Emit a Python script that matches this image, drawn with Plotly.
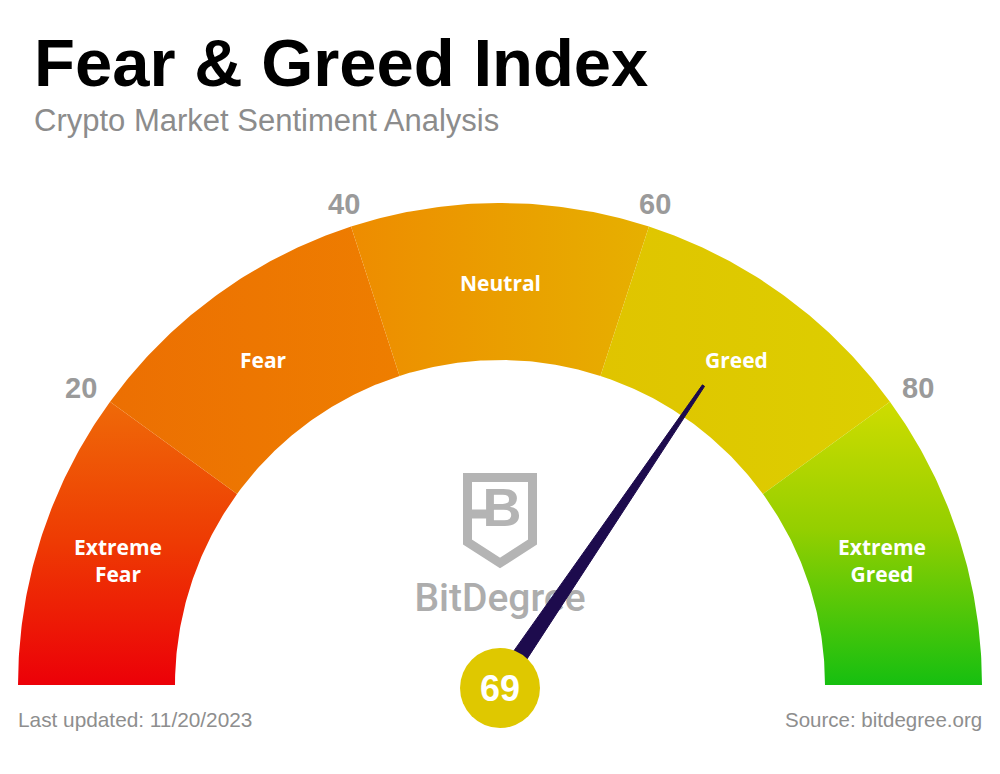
import numpy as np
import plotly.graph_objects as go

# ---------------- data ----------------
zone_names = ["Extreme<br>Fear", "Fear", "Neutral", "Greed", "Extreme<br>Greed"]
zone_bounds = [0, 20, 40, 60, 80, 100]
tick_values = [20, 40, 60, 80]
tick_labels = ["20", "40", "60", "80"]
index_value = 69
title_text = "Fear & Greed Index"
subtitle_text = "Crypto Market Sentiment Analysis"
updated_text = "Last updated: 11/20/2023"
source_text = "Source: bitdegree.org"
brand_text = "BitDegree"

# ---------------- styling / geometry ----------------
W, H = 1000, 774
CX, CY = 500, 685
R_OUT, R_IN = 482, 325
R_LABEL, R_TICK = 402, 506
tick_xshift = [-10, 0, -1, 9]
NEEDLE_LEN, NEEDLE_HALF, NEEDLE_TIP_HALF = 362, 8.5, 1.3
zone_grad = [
    dict(type="vertical", colorscale=[[0, "#ec0008"], [0.5, "#ee3a03"], [1, "#ef6a08"]]),
    dict(type="horizontal", colorscale=[[0, "#ec6f02"], [1, "#ee7e00"]]),
    dict(type="horizontal", colorscale=[[0, "#ee8c00"], [1, "#e6b000"]]),
    dict(type="horizontal", colorscale=[[0, "#e0c400"], [1, "#dccf00"]]),
    dict(type="vertical", colorscale=[[0, "#16bf10"], [0.55, "#94cf00"], [1, "#cfdc00"]]),
]
LOGO_GRAY = "#b4b4b4"


def ang(v):
    return np.radians(180.0 - 180.0 * v / 100.0)


def pt(v, r):
    a = ang(v)
    return CX + r * np.cos(a), CY - r * np.sin(a)


fig = go.Figure()

# gauge zones
for i, name in enumerate(zone_names):
    v0, v1 = zone_bounds[i], zone_bounds[i + 1]
    vs = np.linspace(v0, v1, 80)
    ox, oy = pt(vs, R_OUT)
    ix, iy = pt(vs[::-1], R_IN)
    xs = np.concatenate([ox, ix, ox[:1]])
    ys = np.concatenate([oy, iy, oy[:1]])
    fig.add_trace(go.Scatter(x=xs, y=ys, mode="lines", fill="toself",
                             fillgradient=zone_grad[i],
                             line=dict(width=0, color="rgba(0,0,0,0)"),
                             hoverinfo="skip", showlegend=False))

# watermark logo (shield + B + brand text)
sx = [500, 532.5, 532.5, 500, 467.5, 467.5, 500]
sy = [477.5, 477.5, 542, 563, 542, 477.5, 477.5]
fig.add_trace(go.Scatter(x=sx, y=sy, mode="lines",
                         line=dict(color=LOGO_GRAY, width=9),
                         hoverinfo="skip", showlegend=False))
fig.add_trace(go.Scatter(x=[471, 488], y=[514, 514], mode="lines",
                         line=dict(color=LOGO_GRAY, width=9),
                         hoverinfo="skip", showlegend=False))
fig.add_trace(go.Scatter(x=[502], y=[512], mode="text", text=["B"],
                         textposition="middle center",
                         textfont=dict(family="Liberation Sans", size=54, color=LOGO_GRAY, weight="bold"),
                         hoverinfo="skip", showlegend=False))
fig.add_trace(go.Scatter(x=[500], y=[601], mode="text", text=[brand_text],
                         textposition="middle center",
                         textfont=dict(family="Roboto", size=39, color="#adadad", weight=500),
                         hoverinfo="skip", showlegend=False))

# needle
a = ang(index_value)
d = np.array([np.cos(a), -np.sin(a)])
p = np.array([np.sin(a), np.cos(a)])
c = np.array([CX, CY])
tip = c + NEEDLE_LEN * d
pts = [c + NEEDLE_HALF * p - 4 * d, tip + NEEDLE_TIP_HALF * p,
       tip - NEEDLE_TIP_HALF * p, c - NEEDLE_HALF * p - 4 * d]
pts.append(pts[0])
fig.add_trace(go.Scatter(x=[q[0] for q in pts], y=[q[1] for q in pts],
                         mode="lines", fill="toself", fillcolor="#1d0b4d",
                         line=dict(width=1, color="#1d0b4d"),
                         hoverinfo="skip", showlegend=False))

# centre disc
fig.add_trace(go.Scatter(x=[CX], y=[CY + 3], mode="markers",
                         marker=dict(size=80, color="#dfc800", line=dict(width=0)),
                         hoverinfo="skip", showlegend=False))

ann = []
# zone labels
for i, name in enumerate(zone_names):
    vm = (zone_bounds[i] + zone_bounds[i + 1]) / 2
    x, y = pt(vm, R_LABEL)
    ann.append(dict(x=x, y=y, text=name, showarrow=False, xanchor="center", yanchor="middle",
                    font=dict(family="Open Sans", size=21, color="white", weight="bold")))
# tick labels
for v, t, xs_ in zip(tick_values, tick_labels, tick_xshift):
    x, y = pt(v, R_TICK)
    ann.append(dict(x=x, y=y, text=t, showarrow=False, xanchor="center", yanchor="middle",
                    xshift=xs_,
                    font=dict(family="Liberation Sans", size=29, color="#9a9a9a", weight="bold")))
# value
ann.append(dict(x=CX, y=CY + 3, text=str(index_value), showarrow=False, xanchor="center", yanchor="middle",
                font=dict(family="Liberation Sans", size=36, color="white", weight="bold")))
# titles and footer
ann.append(dict(x=32, y=62, text=title_text, showarrow=False, xanchor="left", yanchor="middle",
                font=dict(family="Liberation Sans", size=67, color="black", weight="bold")))
ann.append(dict(x=32, y=120, text=subtitle_text, showarrow=False, xanchor="left", yanchor="middle",
                font=dict(family="Liberation Sans", size=31, color="#8c8c8c")))
ann.append(dict(x=16, y=719, text=updated_text, showarrow=False, xanchor="left", yanchor="middle",
                font=dict(family="Liberation Sans", size=20.8, color="#8e8e8e")))
ann.append(dict(x=984, y=719, text=source_text, showarrow=False, xanchor="right", yanchor="middle",
                font=dict(family="Liberation Sans", size=20.5, color="#8e8e8e")))
for a_ in ann:
    a_["xref"] = "x"
    a_["yref"] = "y"

fig.update_layout(
    width=W, height=H,
    margin=dict(l=0, r=0, t=0, b=0),
    paper_bgcolor="white", plot_bgcolor="white",
    showlegend=False,
    xaxis=dict(range=[0, W], visible=False, fixedrange=True),
    yaxis=dict(range=[H, 0], visible=False, fixedrange=True),
    annotations=ann,
)

fig.write_html("out.html", config={"displayModeBar": False},
               post_script="document.body.style.margin='0';document.body.style.overflow='hidden';")
